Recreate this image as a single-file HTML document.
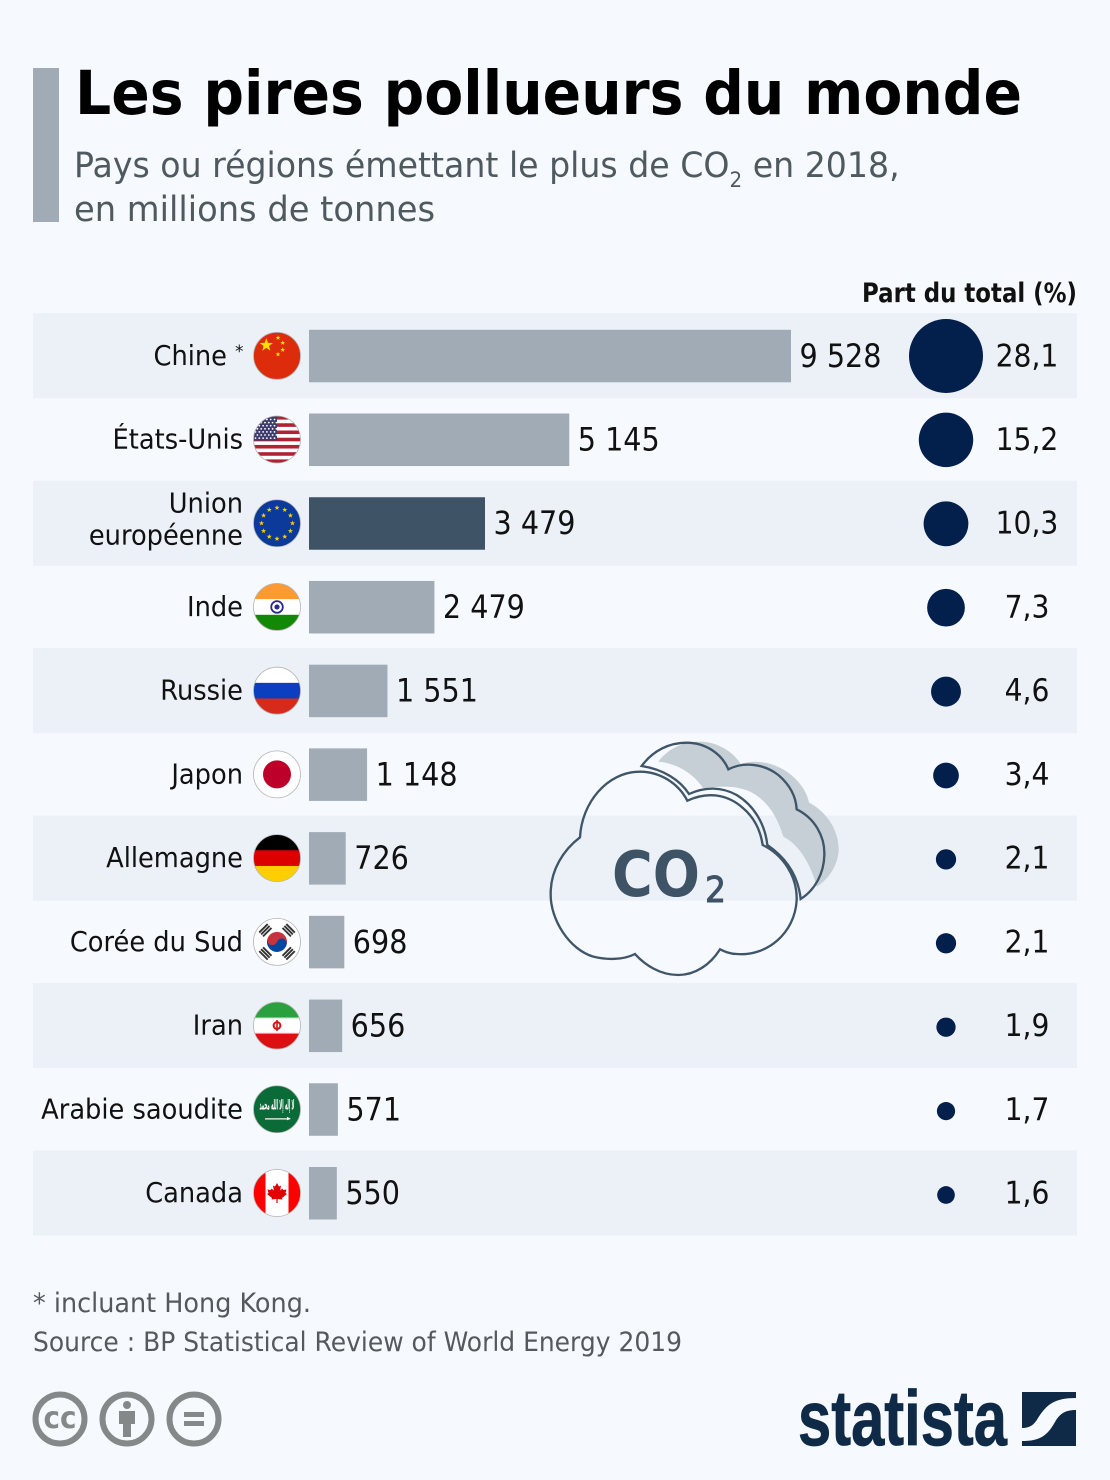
<!DOCTYPE html>
<html lang="fr">
<head>
<meta charset="utf-8">
<title>Les pires pollueurs du monde</title>
<style>
html,body{margin:0;padding:0;background:#f6f9fd;}
svg{display:block;}
text{font-family:"DejaVu Sans","Liberation Sans",sans-serif;}
</style>
</head>
<body>
<svg id="chart" xmlns="http://www.w3.org/2000/svg" width="1110" height="1480" viewBox="0 0 1110 1480">
  <defs>
    <clipPath id="flag-clip"><circle cx="0" cy="0" r="23.5"></circle></clipPath>
  </defs>
  <rect width="1110" height="1480" fill="#f6f9fd"></rect>
  <rect x="33" y="68" width="26" height="154" fill="#a0abb5"></rect>
  <text x="75" y="114" font-size="61" font-weight="700" fill="#000" textLength="947" lengthAdjust="spacingAndGlyphs">Les pires pollueurs du monde</text>
  <text transform="translate(74,177) scale(0.948,1)" font-size="35" fill="#4f5960">Pays ou régions émettant le plus de CO<tspan font-size="21" dy="10">2</tspan><tspan dy="-10"> en 2018,</tspan></text>
  <text x="74" y="221" font-size="35" fill="#4f5960" textLength="361" lengthAdjust="spacingAndGlyphs">en millions de tonnes</text>
  <text x="1077" y="302" text-anchor="end" font-size="27" font-weight="700" fill="#111" textLength="215" lengthAdjust="spacingAndGlyphs">Part du total (%)</text>

  <g id="bands"></g>
  <g id="rows"></g>

  <g transform="translate(540,730) scale(0.33333)">
    <path fill="#c6ced6" d="M355,95 C385,55 430,35 480,35 C530,35 580,65 602,102 C650,85 720,100 765,145 C790,170 803,195 807,218 C860,245 895,300 896,355 C896,400 870,445 830,470 C815,410 780,345 730,320 C715,270 690,220 640,190 C595,165 540,168 490,175 C460,130 410,100 355,95 Z"></path>
    <path fill="none" stroke="#3f5568" stroke-width="7" stroke-linejoin="miter" d="M305,108 C340,60 390,38 440,38 C495,38 545,70 565,118 C610,95 670,100 715,135 C750,165 768,200 770,238 C825,265 855,320 853,375 C852,430 825,480 782,507 C775,440 740,385 682,345 C675,280 640,225 590,195 C545,170 495,170 447,192 C420,150 370,118 305,108 Z"></path>
    <path fill="none" stroke="#3f5568" stroke-width="7" stroke-linejoin="miter" d="M120,322 C125,220 200,125 300,125 C360,125 415,160 442,212 C500,185 560,190 610,235 C645,265 662,305 668,345 C730,375 772,440 770,510 C765,610 680,680 590,672 C570,672 555,665 540,658 C510,705 465,735 415,735 C360,735 315,705 285,672 C250,690 200,690 160,680 C90,660 30,570 32,490 C32,420 70,360 120,322 Z"></path>
  </g>
  <text x="612" y="896" font-size="62" font-weight="700" fill="#3f5366" textLength="88" lengthAdjust="spacingAndGlyphs">CO</text>
  <text x="705" y="902" font-size="36" font-weight="400" fill="#3f5366" stroke="#3f5366" stroke-width="1" textLength="21" lengthAdjust="spacingAndGlyphs">2</text>

  <text x="33" y="1312" font-size="27" fill="#55595d" textLength="278" lengthAdjust="spacingAndGlyphs">* incluant Hong Kong.</text>
  <text x="33" y="1351" font-size="27" fill="#55595d" textLength="649" lengthAdjust="spacingAndGlyphs">Source : BP Statistical Review of World Energy 2019</text>

  <g>
    <circle cx="60" cy="1419" r="24.5" fill="none" stroke="#848889" stroke-width="6"></circle>
    <text x="60" y="1428" text-anchor="middle" font-size="30" font-weight="700" fill="#848889" textLength="33" lengthAdjust="spacingAndGlyphs">cc</text>
  </g>
  <g>
    <circle cx="127" cy="1419" r="24.5" fill="none" stroke="#848889" stroke-width="6"></circle>
    <circle cx="127" cy="1405" r="4" fill="#848889"></circle>
    <path d="M119,1411 H135 V1424 H131 V1437 H123 V1424 H119 Z" fill="#848889"></path>
  </g>
  <g>
    <circle cx="194" cy="1419" r="24.5" fill="none" stroke="#848889" stroke-width="6"></circle>
    <rect x="184" y="1412" width="20" height="5" fill="#848889"></rect>
    <rect x="184" y="1421" width="20" height="5" fill="#848889"></rect>
  </g>

  <text x="798" y="1445" font-size="78" font-weight="700" fill="#0f2a47" stroke="#0f2a47" stroke-width="0.8" textLength="209" lengthAdjust="spacingAndGlyphs" style="font-family:'Liberation Sans',sans-serif">statista</text>
  <path fill="#0f2a47" d="M1022,1392 H1076 V1398 C1055,1398 1047,1404 1038,1418 C1034,1425 1030,1428 1022,1428 Z M1076,1410 V1446 H1022 V1441 C1040,1441 1047,1436 1055,1422 C1060,1413 1066,1410 1076,1410 Z"></path>
</svg>
<script>
// Chart data
const categories = ['Chine', 'États-Unis', 'Union\neuropéenne', 'Inde', 'Russie', 'Japon', 'Allemagne', 'Corée du Sud', 'Iran', 'Arabie saoudite', 'Canada'];
const emissions = [9528, 5145, 3479, 2479, 1551, 1148, 726, 698, 656, 571, 550];
const shares = [28.1, 15.2, 10.3, 7.3, 4.6, 3.4, 2.1, 2.1, 1.9, 1.7, 1.6];
const flagKeys = ['cn', 'us', 'eu', 'in', 'ru', 'jp', 'de', 'kr', 'ir', 'sa', 'ca'];
const highlighted = ['Union\neuropéenne'];
const footnoted = ['Chine'];

const NS = 'http://www.w3.org/2000/svg';
const rowsLayer = document.getElementById('rows');
const bandsLayer = document.getElementById('bands');

// Axis functions
function xScale(v) { return 482 * v / 9528; }
function yCenter(i) { return 355.8 + i * 83.72; }
function yBubble(i) { return 356 + i * 83.9; }
function rScale(v) { return 37 * Math.sqrt(v / 28.1); }

function fmtThousands(v) { return String(v).replace(/\B(?=(\d{3})+$)/g, ' '); }
function fmtShare(v) { return v.toFixed(1).replace('.', ','); }

function svgEl(tag, attrs, parent) {
  const el = document.createElementNS(NS, tag);
  for (const k in attrs) el.setAttribute(k, attrs[k]);
  if (parent) parent.appendChild(el);
  return el;
}
function star(cx, cy, r, fill, rot) {
  let p = '';
  for (let i = 0; i < 10; i++) {
    const a = (rot || 0) - Math.PI / 2 + i * Math.PI / 5;
    const rr = i % 2 ? r * 0.4 : r;
    p += (cx + rr * Math.cos(a)).toFixed(2) + ',' + (cy + rr * Math.sin(a)).toFixed(2) + ' ';
  }
  return '<polygon points="' + p + '" fill="' + fill + '"/>';
}
function hStripes(cols) {
  const h = 47 / cols.length;
  return cols.map(function (c, i) {
    return '<rect x="-24" y="' + (-23.5 + i * h) + '" width="48" height="' + (h + 0.2) + '" fill="' + c + '"/>';
  }).join('');
}
function usFlag() {
  let s = '';
  const c = [];
  for (let i = 0; i < 13; i++) c.push(i % 2 ? '#fff' : '#b22234');
  s += hStripes(c);
  s += '<rect x="-24" y="-24" width="24" height="25" fill="#3c3b6e"/>';
  for (let r = 0; r < 7; r++) for (let k = 0; k < 6; k++) {
    s += '<circle cx="' + (-21.5 + k * 3.8 + (r % 2 ? 1.9 : 0)) + '" cy="' + (-20 + r * 3.1) + '" r="0.9" fill="#fff"/>';
  }
  return s;
}
function euFlag() {
  let s = '<rect x="-24" y="-24" width="48" height="48" fill="#0b3a9b"/>';
  for (let i = 0; i < 12; i++) {
    const a = i * Math.PI / 6;
    s += star(15.5 * Math.sin(a), -15.5 * Math.cos(a), 2.7, '#ffcc00');
  }
  return s;
}
function krFlag() {
  let s = '<rect x="-24" y="-24" width="48" height="48" fill="#fff"/>';
  s += '<circle r="10" fill="#c8313e"/>';
  s += '<path d="M-10,0 A5,5 0 0 0 0,0 A5,5 0 0 1 10,0 A10,10 0 0 1 -10,0 Z" transform="rotate(20)" fill="#0047a0"/>';
  [45, 135, 225, 315].forEach(function (a) {
    s += '<g transform="rotate(' + a + ') translate(0,-16.5)" fill="#333">' +
      '<rect x="-6" y="-3.6" width="12" height="1.9"/><rect x="-6" y="-0.9" width="12" height="1.9"/><rect x="-6" y="1.8" width="12" height="1.9"/></g>';
  });
  return s;
}
function irFlag() {
  let s = hStripes(['#2aa03f', '#fff', '#dc1010']);
  s += '<circle r="4.4" fill="#dc1010"/><circle r="2.4" fill="#fff"/><rect x="-0.8" y="-5.5" width="1.6" height="11" fill="#dc1010"/>';
  s += '<rect x="-24" y="-8.2" width="48" height="1" fill="#a8d8b0"/><rect x="-24" y="7.2" width="48" height="1" fill="#f0b0b0"/>';
  return s;
}
function saFlag() {
  return '<rect x="-24" y="-24" width="48" height="48" fill="#0b6b38"/>' +
    '<text x="0" y="0" text-anchor="middle" font-size="14" font-weight="700" fill="#fff" textLength="35" lengthAdjust="spacingAndGlyphs">لا إله إلا الله محمد</text>' +
    '<rect x="-12" y="9" width="22" height="1.2" fill="#fff"/><path d="M10,7.5 L14,9.6 L10,11 Z" fill="#fff"/>';
}
function caFlag() {
  return '<rect x="-24" y="-24" width="48" height="48" fill="#ff0000"/><rect x="-11.5" y="-24" width="23" height="48" fill="#fff"/>' +
    '<path d="M0,-10 L2,-6.5 L4,-7.5 L3.2,-2.5 L5.5,-4.5 L6.2,-3 L9.5,-3.5 L8.5,0 L10,1 L5,5 L5.5,6.5 L0.6,6 L0.6,10 L-0.6,10 L-0.6,6 L-5.5,6.5 L-5,5 L-10,1 L-8.5,0 L-9.5,-3.5 L-6.2,-3 L-5.5,-4.5 L-3.2,-2.5 L-4,-7.5 L-2,-6.5 Z" fill="#e00000"/>';
}
const flagPainters = {
  cn: function () {
    return '<rect x="-24" y="-24" width="48" height="48" fill="#dd2c0c"/>' +
      star(-10.7, -10.7, 7, '#ffde00') + star(1, -18, 2.6, '#ffde00') + star(5.7, -13, 2.6, '#ffde00') +
      star(5.7, -6, 2.6, '#ffde00') + star(1, -1.5, 2.6, '#ffde00');
  },
  us: usFlag,
  eu: euFlag,
  in: function () {
    return hStripes(['#ff9933', '#fff', '#128807']) +
      '<circle r="5.8" fill="#fff" stroke="#2a2a8c" stroke-width="1.8"/><circle r="2.6" fill="#2a2a8c"/>';
  },
  ru: function () { return hStripes(['#ffffff', '#0a3fc0', '#d62b1c']); },
  jp: function () { return '<rect x="-24" y="-24" width="48" height="48" fill="#fff"/><circle r="14" fill="#bd0029"/>'; },
  de: function () { return hStripes(['#000000', '#dd0000', '#ffce00']); },
  kr: krFlag,
  ir: irFlag,
  sa: saFlag,
  ca: caFlag
};

// Alternating background bands
categories.forEach(function (c, i) {
  if (i % 2 === 0) {
    const band = svgEl('rect', { x: 33, y: yCenter(i) - 42.5, width: 1044, height: 85, fill: '#ecf1f8' }, bandsLayer);
    
    
  }
});

// Rows
const LABEL_SQUEEZE = 0.935;
const VALUE_SQUEEZE = 0.895;
categories.forEach(function (name, i) {
  const cy = yCenter(i);
  const v = emissions[i];
  const s = shares[i];

  const row = svgEl('g', {}, rowsLayer);
  
  

  // Country label
  const lines = name.split('\n');
  lines.forEach(function (line, li) {
    const by = cy + (lines.length > 1 ? 5.5 : 9) + (li - (lines.length - 1) / 2) * 32;
    const hasNote = footnoted.indexOf(line) >= 0;
    const lab = svgEl('text', {
      transform: 'translate(' + (hasNote ? 227 : 243) + ',' + by + ') scale(' + LABEL_SQUEEZE + ',1)',
      'text-anchor': 'end', 'font-size': 27.5, fill: '#111'
    }, row);
    lab.textContent = line;
    
    
    if (hasNote) {
      const note = svgEl('text', { x: 235, y: by - 8, 'font-size': 17, fill: '#111' }, row);
      note.textContent = '*';
      
      
    }
  });

  // Flag
  const flag = svgEl('g', { transform: 'translate(277,' + cy + ')' }, row);
  
  
  const inner = svgEl('g', { 'clip-path': 'url(#flag-clip)' }, flag);
  inner.innerHTML = flagPainters[flagKeys[i]]();
  svgEl('circle', { r: 23.5, fill: 'none', stroke: '#b5b5b5', 'stroke-width': 0.8 }, flag);

  // Bar
  const w = xScale(v);
  const bar = svgEl('rect', {
    x: 309, y: cy - 26, width: w, height: 52.5,
    fill: highlighted.indexOf(name) >= 0 ? '#3f5366' : '#a0abb5'
  }, row);
  
  

  // Bar value
  const val = svgEl('text', {
    transform: 'translate(' + (309 + w + 8.5) + ',' + (cy + 11) + ') scale(' + VALUE_SQUEEZE + ',1)',
    'font-size': 32, fill: '#111'
  }, row);
  val.textContent = fmtThousands(v);
  
  

  // Bubble
  const bub = svgEl('circle', { cx: 946, cy: yBubble(i), r: rScale(s), fill: '#031f4b' }, row);
  
  

  // Share value
  const sh = svgEl('text', {
    transform: 'translate(1027,' + (cy + 10.5) + ') scale(' + VALUE_SQUEEZE + ',1)',
    'text-anchor': 'middle', 'font-size': 31.5, fill: '#111'
  }, row);
  sh.textContent = fmtShare(s);
  
  
});
</script>
</body>
</html>
